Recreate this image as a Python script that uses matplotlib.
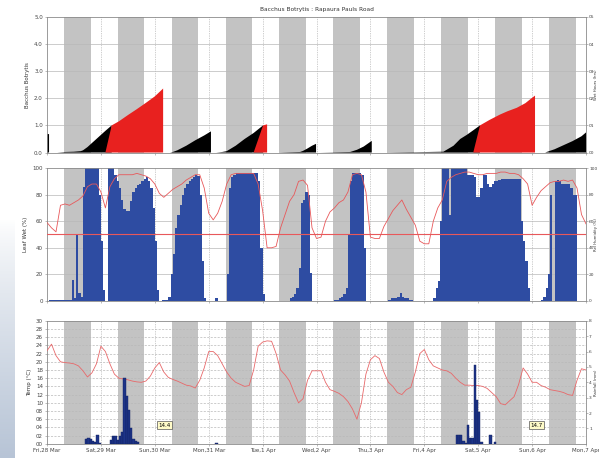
import matplotlib.pyplot as plt
import numpy as np

# time axis: hours since midnight Fri 28 Mar
day_labels = ["Fri,28 Mar", "Sat,29 Mar", "Sun,30 Mar", "Mon,31 Mar", "Tue,1 Apr",
              "Wed,2 Apr", "Thu,3 Apr", "Fri,4 Apr", "Sat,5 Apr", "Sun,6 Apr", "Mon,7 Apr"]
shade_on, shade_off = 7.5, 19.4   # shaded period of each day (h)

# botrytis index (hours, value) - drops to 0 when the period ends
bot_hours = [0, 0, 0.9, 0.9, 4.5, 8, 12, 15, 16, 18, 20, 22, 24, 26, 28.8, 32, 36, 40, 44, 48, 51.7, 51.7,
             54.8, 56, 58, 62, 66, 70, 73, 73,
             75.3, 78, 80, 84, 88, 92, 96.2, 98, 98,
             103.8, 108, 112.7, 114, 116, 118, 119.8, 119.8,
             121.6, 135, 138, 141, 144.6, 144.6,
             152.7, 170, 176.5, 181, 184, 186.9, 189.8, 192.8, 197, 201.7, 205, 209.2, 213, 215.1, 217.3, 217.3,
             221.8, 226, 230, 234, 238, 240]
bot_index = [0, 0.68, 0.68, 0, 0, 0.02, 0.03, 0.05, 0.08, 0.2, 0.35, 0.5, 0.65, 0.8, 1.0, 1.15, 1.38, 1.6, 1.83, 2.07, 2.36, 0,
             0, 0.02, 0.08, 0.25, 0.45, 0.63, 0.78, 0,
             0, 0.02, 0.05, 0.25, 0.5, 0.72, 1.0, 1.04, 0,
             0, 0.01, 0.02, 0.06, 0.15, 0.25, 0.32, 0,
             0, 0.02, 0.1, 0.22, 0.43, 0,
             0, 0.02, 0.03, 0.25, 0.5, 0.65, 0.82, 1.0, 1.2, 1.4, 1.52, 1.65, 1.82, 1.96, 2.1, 0,
             0, 0.12, 0.27, 0.42, 0.6, 0.74]

# leaf wetness (%), hourly
leaf_wet = [
    0, 0.5, 0.5, 0.5, 1, 1, 1, 1, 1, 1, 1, 16, 2, 50, 6, 3, 86, 100, 100, 100, 100, 100, 100, 80,
    45, 8, 0, 100, 100, 100, 95, 90, 85, 76, 69, 68, 68, 75, 82, 85, 87, 88, 90, 92, 93, 90, 85, 70,
    45, 8, 0, 1, 1, 1, 3, 20, 35, 55, 65, 72, 80, 85, 88, 90, 92, 93, 95, 94, 80, 30, 2, 0,
    0, 0, 0, 2, 0, 0, 0, 0, 20, 85, 93, 95, 96, 96, 96, 96, 96, 96, 96, 96, 96, 96, 90, 40,
    5, 0, 0, 0, 0, 0, 0, 0, 0, 0, 0, 0, 2, 3, 5, 10, 25, 74, 76, 82, 80, 21, 0, 0,
    0, 0, 0, 0, 0, 0, 0, 0, 1, 1, 2, 3, 5, 10, 50, 90, 96, 96, 96, 96, 95, 40, 0, 0,
    0, 0, 0, 0, 0, 0, 0, 0, 1, 2, 2, 2, 3, 6, 3, 2, 2, 1, 1, 0, 0, 0, 0, 0,
    0, 0, 0, 0, 2, 10, 15, 60, 100, 100, 100, 65, 100, 100, 100, 100, 100, 100, 100, 95, 95, 95, 93, 78,
    78, 85, 95, 95, 88, 86, 88, 90, 90, 91, 92, 92, 92, 92, 92, 92, 92, 92, 92, 60, 45, 30, 10, 0,
    0, 0, 0, 0, 1, 3, 10, 20, 80, 0, 90, 91, 90, 88, 88, 88, 88, 85, 80, 80, 0, 0, 0, 0,
]

# 2-hourly relative humidity (%) and temperature (C)
rh = [59, 55, 52, 72, 73, 72, 74, 76, 79, 86, 88, 88, 82, 70, 86, 92, 95, 95, 95, 95, 96,
      95, 94, 92, 88, 81, 78, 81, 84, 86, 88, 91, 93, 95, 95, 85, 66, 61, 66, 75, 88,
      95, 96, 96, 96, 96, 96, 88, 68, 40, 40, 41, 55, 65, 75, 80, 90, 91, 87, 55,
      47, 48, 60, 67, 70, 74, 76, 82, 95, 96, 95, 82, 48, 47, 47, 56, 62, 68, 72, 76,
      69, 63, 57, 45, 43, 43, 60, 70, 76, 90, 93, 95, 96, 97, 97, 96, 95, 95, 96, 96,
      96, 97, 97, 96, 96, 95, 92, 88, 72, 78, 83, 86, 89, 90, 90, 91, 90, 91, 85, 65, 58]
temp = [22.7, 24.3, 21.5, 20.0, 19.8, 19.7, 19.5, 19.0, 17.8, 16.3, 17.3, 19.5, 23.8, 22.5, 19.5, 17.0,
        16.0, 15.8, 15.6, 15.3, 15.1, 15.0, 15.3, 16.5, 18.5, 19.8, 17.5, 16.2, 15.7, 15.3, 14.8, 14.3,
        14.1, 13.6, 15.5, 18.5, 22.5, 22.5, 21.5, 19.5, 17.5, 16.0, 15.0, 14.5, 14.0, 14.2, 18.0, 23.8,
        24.8, 25.1, 25.0, 22.0, 18.0, 16.8, 15.3, 12.5, 10.0, 11.0, 15.5, 17.8, 17.8, 17.8, 15.0, 13.2,
        12.8, 12.3, 11.5, 10.3, 8.5, 6.0, 10.0, 17.0, 20.5, 21.5, 20.8, 17.5, 15.0, 14.0, 12.5, 12.0,
        13.2, 13.8, 17.5, 22.0, 23.0, 20.5, 19.0, 18.5, 18.0, 17.8, 17.2, 16.0, 15.0, 14.3, 14.3, 14.2,
        14.2, 14.0, 13.5, 12.5, 11.5, 9.8, 9.5, 10.5, 11.5, 14.5, 18.5, 17.0, 15.0, 15.0, 14.2, 13.8,
        13.2, 13.0, 12.8, 12.5, 12.0, 11.8, 15.5, 18.3, 18.0]
sample_hours = np.arange(0, 241, 2)

# rainfall (mm), hours with rain only
rain_hours = [17, 18, 19, 20, 21, 22, 23, 28, 29, 30, 31, 32, 33, 34, 35, 36, 37, 38, 39, 40, 75,
              182, 183, 184, 185, 186, 187, 188, 189, 190, 191, 192, 193, 197, 199]
rain_mm = [0.32, 0.35, 0.32, 0.16, 0.12, 0.55, 0.05, 0.25, 0.48, 0.48, 0.27, 0.48, 0.75, 4.25, 3.1,
           2.2, 1.0, 0.3, 0.2, 0.1, 0.08,
           0.55, 0.55, 0.55, 0.15, 0.05, 1.25, 0.4, 0.4, 5.15, 2.85, 2.05, 0.1, 0.55, 0.1]

# rainfall totals shown in boxes (hour, label)
total_hours = [52.5, 217.8]
total_labels = ["14.4", "14.7"]

plt.rcParams['font.family'] = ['DejaVu Sans']
plt.rcParams['font.size'] = 4

fig = plt.figure(figsize=(5.99, 4.58), dpi=100)

# pale cloudy strip down the left edge of the page
bg = fig.add_axes([0, 0, 0.025, 0.52], zorder=-5)
t = np.linspace(0, 1, 100).reshape(-1, 1, 1)
top_col = np.array([1.0, 1.0, 1.0])
bot_col = np.array([0.72, 0.77, 0.84])
bg.imshow(top_col + (bot_col - top_col) * t ** 0.8, aspect="auto", origin="upper")
bg.axis("off")

left, width = 0.0785, 0.8998
ax1 = fig.add_axes([left, 0.667, width, 0.296])
ax2 = fig.add_axes([left, 0.343, width, 0.290])
ax3 = fig.add_axes([left, 0.031, width, 0.2686])

frame_col = "#8a8a8a"


def base(ax, ymax, ystep, ls):
    for d in range(len(day_labels) - 1):
        ax.axvspan(24 * d + shade_on, 24 * d + shade_off, color="#c3c3c3", lw=0, zorder=0)
    for d in range(1, len(day_labels) - 1):
        ax.axvline(24 * d, color="#a0a0a0", lw=0.5, ls=(0, (1, 1.5)), zorder=0.5)
    for y in np.arange(ystep, ymax, ystep):
        ax.axhline(y, color="#b8b8b8", lw=0.5, ls=ls, zorder=0.5)
    ax.set_xlim(0, 240)
    ax.set_ylim(0, ymax)
    ax.set_xticks(np.arange(0, 241, 24))
    ax.set_xticklabels([])
    for s in ax.spines.values():
        s.set_color(frame_col)
        s.set_linewidth(0.6)
    ax.tick_params(length=1.5, width=0.4, color=frame_col, pad=1.5, colors="#444444")


def right_axis(ax, label):
    axr = ax.twinx()
    axr.tick_params(length=1.2, width=0.4, color=frame_col, pad=1.0, colors="#444444",
                    labelsize=3.2)
    for s in axr.spines.values():
        s.set_visible(False)
    axr.set_ylabel(label, color="#333333", fontsize=2.8)
    axr.yaxis.set_label_coords(1.0152, 0.5)
    return axr


# --- panel 1: botrytis index
base(ax1, 5, 1, "-")
bh = np.array(bot_hours)
bv = np.array(bot_index)
ax1.fill_between(bh, 0, bv, where=bv <= 1.0, interpolate=True, color="black", lw=0, zorder=2)
ax1.fill_between(bh, 0, bv, where=bv >= 1.0, interpolate=True, color="#e8211f", lw=0, zorder=2)
ax1.set_yticks(np.arange(0, 5.1, 1))
ax1.set_yticklabels(["0.0", "1.0", "2.0", "3.0", "4.0", "5.0"])
ax1.set_ylabel("Bacchus Botrytis", labelpad=3, color="#333333")
ax1.set_title("Bacchus Botrytis : Rapaura Pauls Road", fontsize=4.2, pad=4, color="#333333")
ax1r = right_axis(ax1, "Wet Hours (hrs)")
ax1r.set_ylim(0, 5)
ax1r.set_yticks(np.arange(0, 6, 1))
ax1r.set_yticklabels(["00", "01", "02", "03", "04", "05"])

# --- panel 2: leaf wetness and humidity
base(ax2, 100, 20, "-")
ax2.bar(np.arange(len(leaf_wet)), leaf_wet, width=1.0, align="edge", color="#2e4ca2", lw=0, zorder=2)
ax2.set_yticks(np.arange(0, 101, 20))
ax2.set_ylabel("Leaf Wet (%)", labelpad=3, color="#333333")
ax2r = right_axis(ax2, "Rel Humidity (%)")
ax2r.plot(sample_hours, rh, color="#e8585a", lw=0.6, zorder=3)
ax2r.axhline(50, color="#e8585a", lw=0.8, zorder=3)
ax2r.set_ylim(0, 100)
ax2r.set_yticks(np.arange(0, 101, 20))

# --- panel 3: temperature and rainfall
base(ax3, 30, 2, (0, (3, 2)))
ax3.plot(sample_hours, temp, color="#e8686a", lw=0.6, zorder=3)
ax3.set_yticks(np.arange(0, 31, 2))
ax3.set_yticklabels(["%02d" % v for v in range(0, 31, 2)])
ax3.set_ylabel("Temp (°C)", labelpad=3, color="#333333")
ax3.set_xticklabels(day_labels)
ax3r = right_axis(ax3, "Rainfall (mm)")
ax3r.bar(rain_hours, rain_mm, width=1.0, align="edge", color="#1d3488", edgecolor="#0f1f5e",
         lw=0.3, zorder=2)
ax3r.set_ylim(0, 8)
ax3r.set_yticks(np.arange(1, 9, 1))
for h, lab in zip(total_hours, total_labels):
    ax3r.text(h, 1.2, lab, ha="center", va="center", fontsize=4, zorder=5,
              bbox=dict(boxstyle="square,pad=0.25", fc="#fffbc8", ec="#555555", lw=0.5))

fig.savefig("out.png", dpi=100)
